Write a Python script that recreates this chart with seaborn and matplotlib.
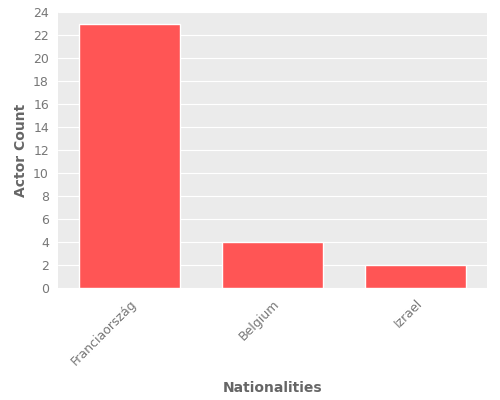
import matplotlib
matplotlib.use('Agg')
import matplotlib.pyplot as plt
import seaborn as sns
import pandas as pd

nationalities = ['Franciaország', 'Belgium', 'Izrael']
actor_counts = [23, 4, 2]

df = pd.DataFrame({'Nationalities': nationalities, 'Actor Count': actor_counts})

sns.set_style('darkgrid', {'axes.facecolor': '#EBEBEB', 'grid.color': 'white'})
plt.rcParams['font.family'] = ['DejaVu Sans']

fig, ax = plt.subplots(figsize=(5, 4), dpi=100)
sns.barplot(data=df, x='Nationalities', y='Actor Count', color='#FF5555',
            saturation=1, width=0.7, ax=ax)
ax.xaxis.grid(False)
ax.set_ylim(0, 24)
ax.set_yticks(range(0, 25, 2))
ax.tick_params(colors='#777777', labelsize=9, length=3)
plt.setp(ax.get_xticklabels(), rotation=45, ha='right', rotation_mode='anchor')
ax.set_xlabel('Nationalities', color='#666666', fontsize=10, fontweight='bold', labelpad=10)
ax.set_ylabel('Actor Count', color='#666666', fontsize=10, fontweight='bold')
for s in ax.spines.values():
    s.set_visible(False)
fig.subplots_adjust(left=0.116, right=0.974, top=0.97, bottom=0.28)
fig.savefig('out.png')
